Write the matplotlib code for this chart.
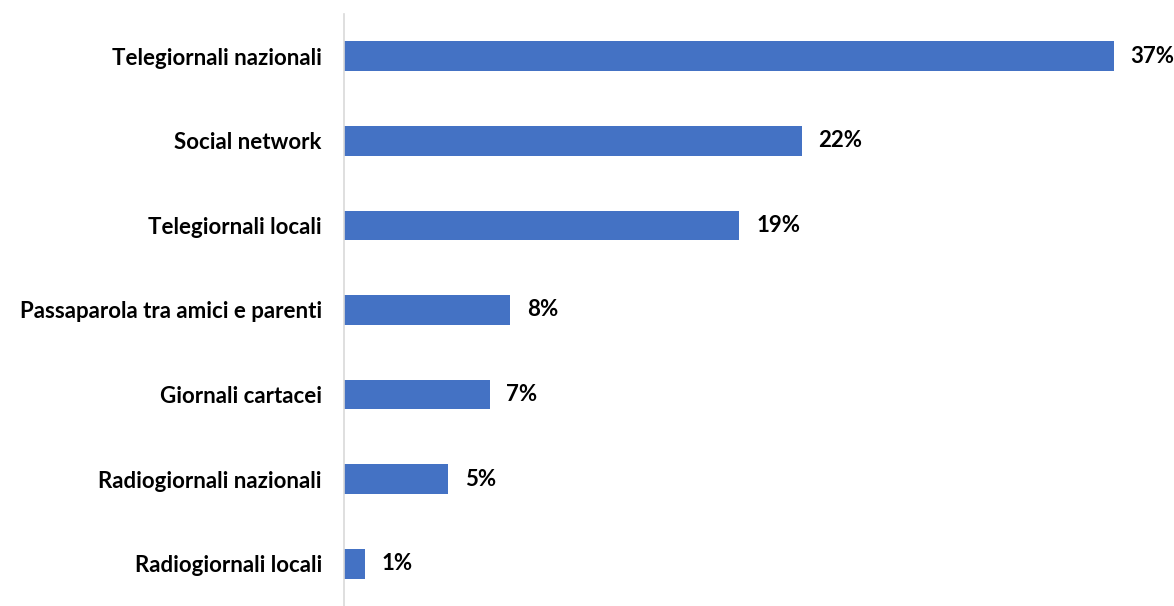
import matplotlib
matplotlib.use("Agg")
import matplotlib.pyplot as plt

categories = ["Telegiornali nazionali", "Social network", "Telegiornali locali",
              "Passaparola tra amici e parenti", "Giornali cartacei",
              "Radiogiornali nazionali", "Radiogiornali locali"]
values = [37, 22, 19, 8, 7, 5, 1]
labels = ["37%", "22%", "19%", "8%", "7%", "5%", "1%"]

plt.rcParams['font.family'] = ['Lato', 'DejaVu Sans']

fig = plt.figure(figsize=(11.74, 6.06), dpi=100)
ax = fig.add_axes([0.293, 0.0, 0.707, 0.977])

pos = list(range(len(categories)))
ax.barh(pos, values, height=0.35, color="#4472C4")
for p, v, lab in zip(pos, values, labels):
    ax.text(v + 0.8, p, lab, va="center", ha="left", fontsize=16, fontweight="bold")

ax.set_yticks(pos)
ax.set_yticklabels(categories, fontsize=16, fontweight="bold")
ax.set_ylim(6.5, -0.5)
ax.set_xlim(0, 39.88)
ax.set_xticks([])
ax.tick_params(axis="y", length=0, pad=16)
for side in ["top", "right", "bottom"]:
    ax.spines[side].set_visible(False)
ax.spines["left"].set_color("#d9d9d9")
ax.spines["left"].set_linewidth(1.2)

fig.savefig("out.png", dpi=100)
